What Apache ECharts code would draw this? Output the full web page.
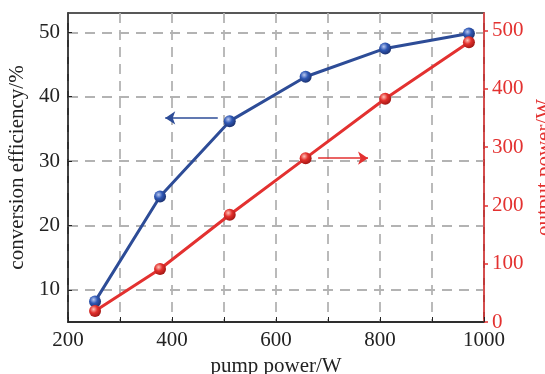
<!DOCTYPE html>
<html>
<head>
<meta charset="utf-8">
<script src="https://cdn.jsdelivr.net/npm/echarts@6/dist/echarts.min.js"></script>
<style>
  html, body { margin: 0; padding: 0; background: #fff; }
  #chart { width: 545px; height: 374px; }
</style>
</head>
<body>
<div id="chart"></div>
<script>
// values
const pumpPower = [252, 377, 511, 657, 810, 971];
const efficiency = [8.2, 24.5, 36.2, 43.1, 47.5, 49.8];
const outputPower = [18.8, 91, 184, 281, 383, 480];

const xLabels = [200, 400, 600, 800, 1000];
const effTicks = [10, 20, 30, 40, 50];

// annotation arrows (data space)
const effArrow = [[488, 36.7], [387, 36.7]];
const powArrow = [[681, 281], [777, 281]];

const BLUE = "#2d4c97";
const RED = "#e33130";
const FONT = "Liberation Serif";
const GRID_LINE = { color: "#b3b3b3", width: 1.8, type: [10, 7] };

const ball = (light, mid, dark) => ({
  type: "radial",
  x: 0.38,
  y: 0.35,
  r: 0.7,
  colorStops: [
    { offset: 0, color: light },
    { offset: 0.45, color: mid },
    { offset: 1, color: dark },
  ],
});

const chart = echarts.init(document.getElementById("chart"));

chart.setOption({
  animation: false,
  textStyle: { fontFamily: FONT },
  grid: {
    left: 68,
    right: 61,
    top: 13,
    bottom: 52,
    outerBoundsMode: "none",
    show: true,
    borderColor: "#222",
    borderWidth: 1.5,
    backgroundColor: "transparent",
  },
  xAxis: {
    type: "value",
    min: 200,
    max: 1000,
    interval: 100,
    name: "pump power/W",
    nameLocation: "middle",
    nameGap: 29,
    nameTextStyle: { fontFamily: FONT, fontSize: 21, color: "#222" },
    axisLine: { show: true, lineStyle: { color: "#222", width: 1.5 } },
    axisTick: { show: true, inside: true, length: 5, lineStyle: { color: "#222" } },
    axisLabel: {
      customValues: xLabels,
      formatter: (v) => String(v),
      margin: 8,
      fontFamily: FONT,
      fontSize: 21,
      color: "#222",
    },
    splitLine: { show: true, lineStyle: GRID_LINE },
  },
  yAxis: [
    {
      type: "value",
      position: "left",
      min: 5,
      max: 53,
      name: "conversion efficiency/%",
      nameLocation: "middle",
      nameGap: 37,
      nameTextStyle: { fontFamily: FONT, fontSize: 21, color: "#222" },
      axisLine: { show: true, lineStyle: { color: "#222", width: 1.5 } },
      axisTick: {
        show: true,
        inside: true,
        length: 4,
        customValues: effTicks,
        lineStyle: { color: "#222" },
      },
      axisLabel: {
        customValues: effTicks,
        margin: 8,
        fontFamily: FONT,
        fontSize: 21,
        color: "#222",
      },
      splitLine: { show: true, lineStyle: GRID_LINE },
    },
    {
      type: "value",
      position: "right",
      min: 0,
      max: 530,
      interval: 100,
      name: "output power/W",
      nameLocation: "middle",
      nameGap: 47,
      nameTextStyle: { fontFamily: FONT, fontSize: 21, color: RED },
      axisLine: { show: true, lineStyle: { color: RED, width: 1.5 } },
      axisTick: { show: true, length: 4, lineStyle: { color: RED, width: 1.5 } },
      axisLabel: { margin: 8, fontFamily: FONT, fontSize: 21, color: RED },
      splitLine: { show: false },
    },
  ],
  series: [
    {
      name: "efficiency",
      type: "line",
      yAxisIndex: 0,
      data: pumpPower.map((x, i) => [x, efficiency[i]]),
      symbol: "circle",
      symbolSize: 12,
      lineStyle: { color: BLUE, width: 3 },
      itemStyle: { color: ball("#b9c8f0", "#2f58b5", "#1b2f6b") },
      markLine: {
        silent: true,
        symbol: ["none", "arrow"],
        symbolSize: [10, 10],
        label: { show: false },
        lineStyle: { color: BLUE, width: 1.5, type: "solid" },
        data: [[{ coord: effArrow[0] }, { coord: effArrow[1] }]],
      },
    },
    {
      name: "output",
      type: "line",
      yAxisIndex: 1,
      data: pumpPower.map((x, i) => [x, outputPower[i]]),
      symbol: "circle",
      symbolSize: 12,
      lineStyle: { color: RED, width: 3 },
      itemStyle: { color: ball("#ffc2b8", "#e3302c", "#9c1512") },
      markLine: {
        silent: true,
        symbol: ["none", "arrow"],
        symbolSize: [10, 10],
        label: { show: false },
        lineStyle: { color: RED, width: 1.5, type: "solid" },
        data: [[{ coord: powArrow[0] }, { coord: powArrow[1] }]],
      },
    },
  ],
});
</script>
</body>
</html>
